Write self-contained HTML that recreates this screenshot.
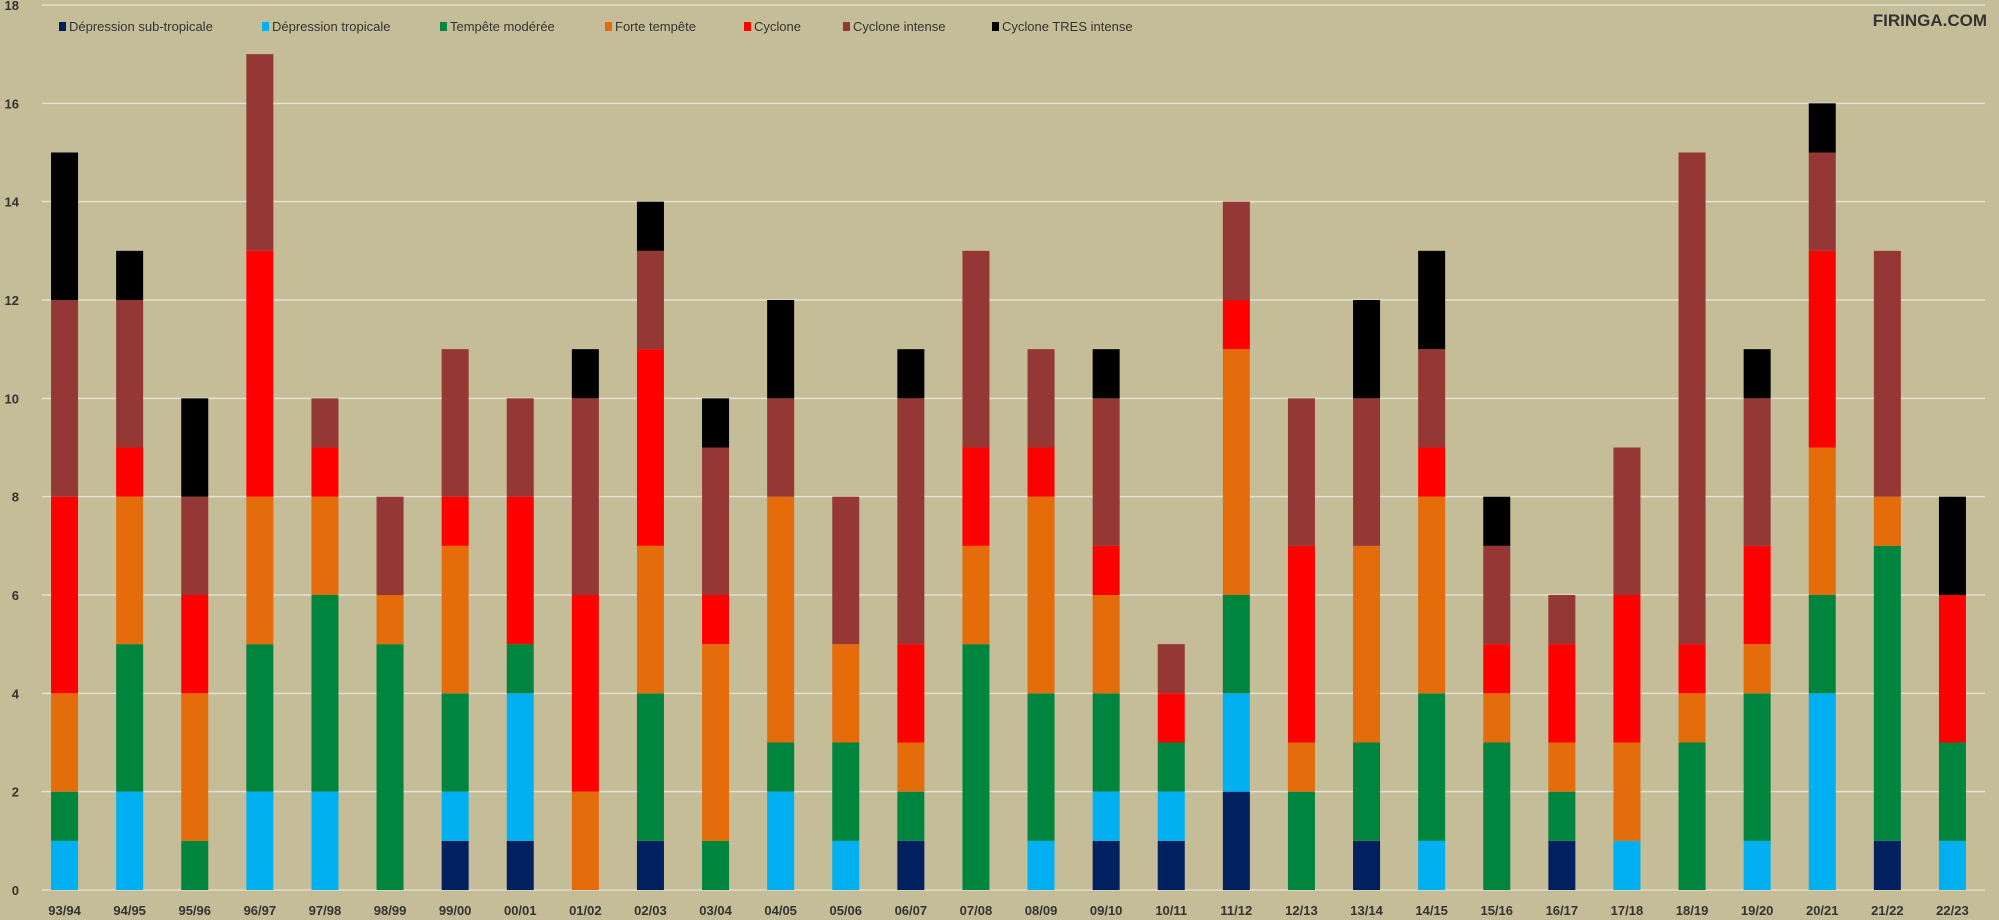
<!DOCTYPE html>
<html><head><meta charset="utf-8">
<style>
html,body{margin:0;padding:0;background:#C4BD97;}
svg{display:block;font-family:"Liberation Sans",sans-serif;}
</style></head>
<body>
<svg id="chart" width="1999" height="920" viewBox="0 0 1999 920">
<rect x="0" y="0" width="1999" height="920" fill="#C4BD97"/>
<g id="grid"></g>
<g id="bars"></g>
<g id="yticks"></g>
<g id="xticks"></g>
<g id="legend"></g>
<text x="1987" y="26" text-anchor="end" font-size="17" font-weight="bold" fill="#333">FIRINGA.COM</text>
</svg>
<script>
const categories = ["93/94","94/95","95/96","96/97","97/98","98/99","99/00","00/01","01/02","02/03","03/04","04/05","05/06","06/07","07/08","08/09","09/10","10/11","11/12","12/13","13/14","14/15","15/16","16/17","17/18","18/19","19/20","20/21","21/22","22/23"];
const seriesNames = ["Dépression sub-tropicale","Dépression tropicale","Tempête modérée","Forte tempête","Cyclone","Cyclone intense","Cyclone TRES intense"];
const subTropical = [0,0,0,0,0,0,1,1,0,1,0,0,0,1,0,0,1,1,2,0,1,0,0,1,0,0,0,0,1,0];
const tropical    = [1,2,0,2,2,0,1,3,0,0,0,2,1,0,0,1,1,1,2,0,0,1,0,0,1,0,1,4,0,1];
const moderate    = [1,3,1,3,4,5,2,1,0,3,1,1,2,1,5,3,2,1,2,2,2,3,3,1,0,3,3,2,6,2];
const strong      = [2,3,3,3,2,1,3,0,2,3,4,5,2,1,2,4,2,0,5,1,4,4,1,1,2,1,1,3,1,0];
const cyclone     = [4,1,2,5,1,0,1,3,4,4,1,0,0,2,2,1,1,1,1,4,0,1,1,2,3,1,2,4,0,3];
const intense     = [4,3,2,4,1,2,3,2,4,2,3,2,3,5,4,2,3,1,2,3,3,2,2,1,3,10,3,2,5,0];
const veryIntense = [3,1,2,0,0,0,0,0,1,1,1,2,0,1,0,0,1,0,0,0,2,2,1,0,0,0,1,1,0,2];
const yTicks = [0,2,4,6,8,10,12,14,16,18];
const colors = ["#002060","#00B0F0","#00853E","#E46C0A","#FF0000","#953735","#000000"];
const series = [subTropical,tropical,moderate,strong,cyclone,intense,veryIntense];

const NS="http://www.w3.org/2000/svg";
const plotL=32, plotR=1985, plotTop=5, plotBot=890, yMax=18;
const band=(plotR-plotL)/categories.length, barW=27;
function y(v){return plotBot-(v/yMax)*(plotBot-plotTop);}
function xc(i){return plotL+band*(i+0.5);}
function mk(tag,attrs,parent){const e=document.createElementNS(NS,tag);for(const k in attrs)e.setAttribute(k,attrs[k]);parent.appendChild(e);return e;}

const grid=document.getElementById('grid'), yt=document.getElementById('yticks');
yTicks.forEach(t=>{
  const l=mk('line',{x1:plotL+10,x2:plotR,y1:y(t),y2:y(t),stroke:t===0?'#e0dccb':'#e6e2d2','stroke-width':1.5},grid);
  
  
  const tx=mk('text',{x:19,y:y(t)+5,'text-anchor':'end','font-size':13,'font-weight':'bold',fill:'#333'},yt);
  tx.textContent=t;
  
  
});
const bars=document.getElementById('bars'), xt=document.getElementById('xticks');
categories.forEach((c,i)=>{
  let cum=0;
  series.forEach((s,k)=>{
    const v=s[i]; if(!v) return;
    const r=mk('rect',{x:xc(i)-barW/2,y:y(cum+v),width:barW,height:y(cum)-y(cum+v),fill:colors[k]},bars);
    
    
    cum+=v;
  });
  const tx=mk('text',{x:xc(i),y:915,'text-anchor':'middle','font-size':13,'font-weight':'bold',fill:'#333'},xt);
  tx.textContent=c;
  
  
});
const lg=document.getElementById('legend');
const lx=[59,262,440,605,744,843,992];
seriesNames.forEach((n,k)=>{
  const r=mk('rect',{x:lx[k],y:22,width:7,height:9,fill:colors[k]},lg);
  
  
  const t=mk('text',{x:lx[k]+10,y:31,'font-size':13,fill:'#333'},lg);
  t.textContent=n;
  
  
});
</script>
</body></html>
